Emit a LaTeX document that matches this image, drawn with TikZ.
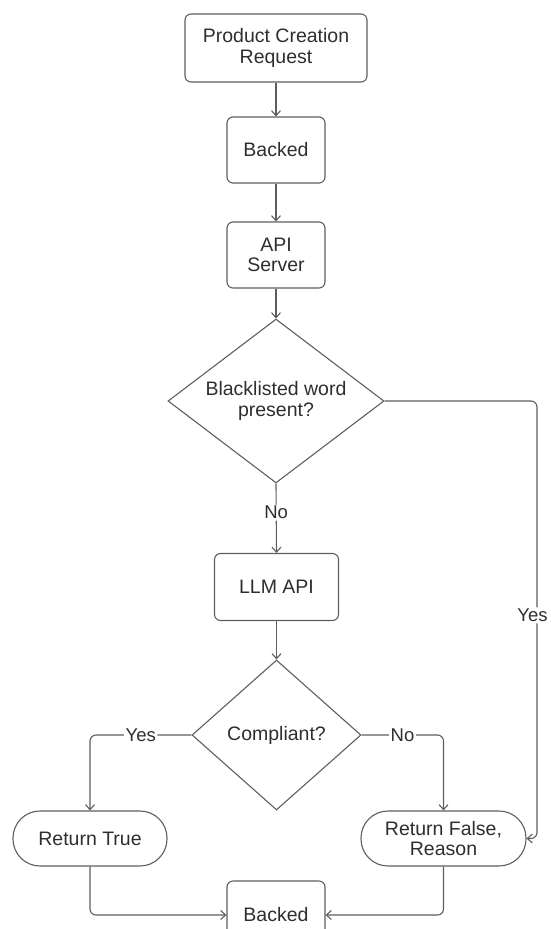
\documentclass[tikz,border=0pt]{standalone}
\usepackage{fontspec}
\setmainfont{Liberation Sans}
\usetikzlibrary{shapes.geometric,arrows.meta}
\definecolor{ln}{HTML}{5E5E5E}
\definecolor{tx}{HTML}{2E2E2E}
\tikzset{
  every node/.style={font=\fontsize{19.5}{20.5}\selectfont, text=tx},
  box/.style={draw=ln, line width=1.1pt, rounded corners=6pt, align=center, inner sep=0pt},
  dia/.style={draw=ln, line width=1.1pt, diamond, align=center, inner sep=0pt},
  pill/.style={draw=ln, line width=1.1pt, rounded corners=27pt, align=center, inner sep=0pt, minimum width=154pt, minimum height=55pt},
  arr/.style={draw=ln, line width=1.1pt, -{Straight Barb[length=5pt,width=9pt]}, rounded corners=6pt},
  lbl/.style={fill=white, inner sep=1.5pt, font=\fontsize{18.5}{20}\selectfont}
}
\begin{document}
\begin{tikzpicture}[x=1pt,y=-1pt]
\useasboundingbox (0,0) rectangle (550,929);
\node[box, minimum width=182pt, minimum height=68pt] (req) at (276,48) {Product Creation\\Request};
\node[box, minimum width=98pt, minimum height=66pt] (b1) at (276,150) {Backed};
\node[box, minimum width=98pt, minimum height=66pt] (api) at (276,255) {API\\Server};
\node[dia, aspect=1.32, minimum width=216pt, minimum height=164pt] (d1) at (276,401) {Blacklisted word\\present?};
\node[box, minimum width=124pt, minimum height=67pt] (llm) at (276.5,587) {LLM API};
\node[dia, aspect=1.13, minimum width=169pt, minimum height=150pt] (d2) at (276.5,735) {Compliant?};
\node[pill] (rt) at (90,838.5) {Return True};
\node[pill, minimum width=165pt] (rf) at (443.5,838.5) {Return False,\\Reason};
\node[box, minimum width=98pt, minimum height=68pt] (b2) at (276,915) {Backed};
\coordinate (yx) at (537,0);

\draw[arr] (req.south) -- (b1.north);
\draw[arr] (b1.south) -- (api.north);
\draw[arr] (api.south) -- (d1.north);
\draw[arr] (d1.south) -- node[lbl, pos=0.42]{No} (llm.north);
\draw[arr] (llm.south) -- (d2.north);
\draw[arr] (d2.west) -- node[lbl]{Yes} (rt.north |- d2.west) -- (rt.north);
\draw[arr] (d2.east) -- node[lbl]{No} (rf.north |- d2.east) -- (rf.north);
\draw[arr] (d1.east) -- (d1.east -| yx) -- node[lbl, pos=0.49, xshift=-4.5pt]{Yes} (yx |- rf.east) -- (rf.east);
\draw[arr] (rt.south) -- (rt.south |- b2.west) -- (b2.west);
\draw[arr] (rf.south) -- (rf.south |- b2.east) -- (b2.east);
\end{tikzpicture}
\end{document}
